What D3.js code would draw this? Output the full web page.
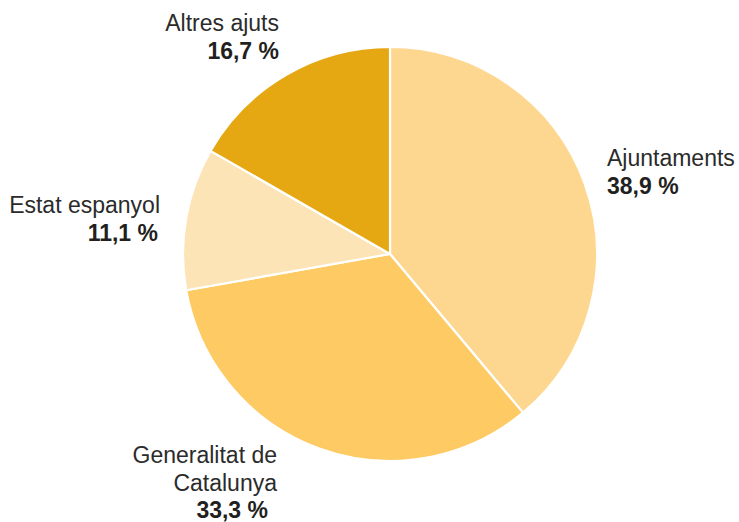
<!DOCTYPE html>
<html>
<head>
<meta charset="utf-8">
<script src="https://cdn.jsdelivr.net/npm/d3@7/dist/d3.min.js"></script>
<style>
  html, body { margin: 0; padding: 0; background: #fff; }
  svg { display: block; }
  text { font-family: "Liberation Sans", Arial, Helvetica, sans-serif; fill: #231f20; }
</style>
</head>
<body>
<svg id="chart" width="739" height="522"></svg>
<script>
// Data
const categories = ["Ajuntaments", "Generalitat de Catalunya", "Estat espanyol", "Altres ajuts"];
const values = [38.9, 33.3, 11.1, 16.7];
const valueLabels = ["38,9 %", "33,3 %", "11,1 %", "16,7 %"];
const nameLines = [["Ajuntaments"], ["Generalitat de", "Catalunya"], ["Estat espanyol"], ["Altres ajuts"]];
const colors = ["#FDD78F", "#FECA64", "#FDE4B7", "#E5A813"];

// Layout
const W = 739, H = 522;
const cx = 390, cy = 254, R = 207;
const fontSize = 23, lineH = 27.5;
// label anchor (x, first baseline y, anchor, x of value line)
const labelPos = [
  { x: 607, y: 166, anchor: "start", vx: 607 },
  { x: 277, y: 463, anchor: "end", vx: 268 },
  { x: 160, y: 213, anchor: "end", vx: 158 },
  { x: 279, y: 31, anchor: "end", vx: 279 }
];

const svg = d3.select("#chart");
const g = svg.append("g").attr("transform", `translate(${cx},${cy})`);

const pie = d3.pie().sort(null).value(d => d.v);
const arc = d3.arc().innerRadius(0).outerRadius(R);
const data = categories.map((c, i) => ({ c, v: values[i], i }));
const color = d3.scaleOrdinal().domain(categories).range(colors);

g.selectAll("path")
  .data(pie(data))
  .join("path")
  .attr("d", arc)
  .attr("fill", d => color(d.data.c))
  .attr("stroke", "#fff")
  .attr("stroke-width", 2.2)
  .attr("stroke-linejoin", "round");

data.forEach((d, i) => {
  const p = labelPos[i];
  const t = svg.append("text")
    .attr("text-anchor", p.anchor)
    .attr("font-size", fontSize);
  nameLines[i].forEach((line, k) => {
    t.append("tspan").attr("x", p.x).attr("y", p.y + k * lineH).attr("fill", "#2b2b2b").text(line);
  });
  t.append("tspan")
    .attr("x", p.vx)
    .attr("y", p.y + nameLines[i].length * lineH)
    .attr("font-weight", "bold")
    .text(valueLabels[i]);
});
</script>
</body>
</html>
